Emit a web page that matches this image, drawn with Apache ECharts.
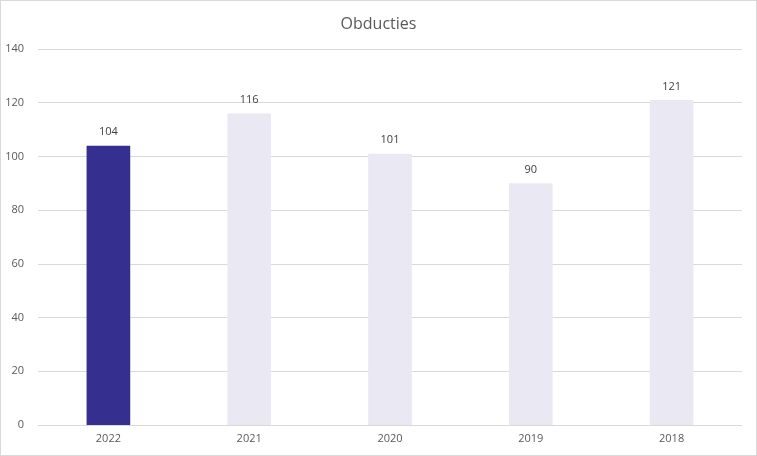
<!DOCTYPE html>
<html><head><meta charset="utf-8">
<script src="https://cdn.jsdelivr.net/npm/echarts@6/dist/echarts.min.js"></script>
<style>html,body{margin:0;padding:0;background:#fff}#c{width:757px;height:456px;box-sizing:border-box;border:1px solid #d9d9d9}</style>
</head><body><div id="c"></div>
<script>
const categories = ['2022','2021','2020','2019','2018'];
const values = [104,116,101,90,121];
const barColors = ['#35308F','#E9E8F3','#E9E8F3','#E9E8F3','#E9E8F3'];
const chart = echarts.init(document.getElementById('c'));
chart.setOption({
  animation:false,
  title:{text:'Obducties',left:'center',top:10,textStyle:{fontFamily:'Open Sans',fontSize:16,fontWeight:'normal',color:'#595959'}},
  grid:{left:37,right:14,top:48,bottom:30},
  xAxis:{type:'category',data:categories,axisTick:{show:false},axisLine:{lineStyle:{color:'#d9d9d9'}},
    axisLabel:{color:'#595959',fontSize:11,fontFamily:'Open Sans'}},
  yAxis:{type:'value',min:0,max:140,interval:20,axisLabel:{color:'#595959',fontSize:11,fontFamily:'Open Sans',margin:14},
    splitLine:{lineStyle:{color:'#d9d9d9'}}},
  series:[{type:'bar',barWidth:'31%',
    data:values.map((v,i)=>({value:v,itemStyle:{color:barColors[i]}})),
    label:{show:true,position:'top',distance:8,color:'#404040',fontSize:11,fontFamily:'Open Sans'}}]
});
</script></body></html>
